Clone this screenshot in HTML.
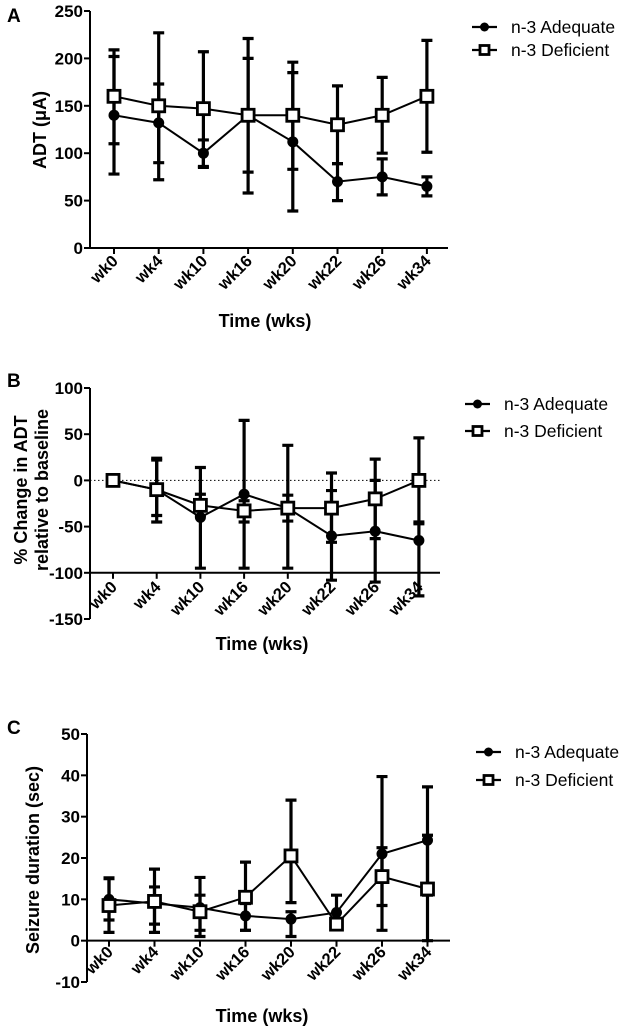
<!DOCTYPE html>
<html><head><meta charset="utf-8"><style>
html,body{margin:0;padding:0;background:#fff;}
svg{display:block;font-family:"Liberation Sans",Arial,sans-serif;}
</style></head><body>
<svg id="fig" width="638" height="1031" viewBox="0 0 638 1031" xmlns="http://www.w3.org/2000/svg"></svg>
<script>
const categories = ["wk0","wk4","wk10","wk16","wk20","wk22","wk26","wk34"];
// Panel A
const aAdeqMean = [140,132,100,140,112,70,75,65];
const aAdeqLow  = [78,72,85,58,39,50,56,55];
const aAdeqHigh = [202,173,114,221,185,89,94,75];
const aDefMean  = [160,150,147,140,140,130,140,160];
const aDefLow   = [110,90,86,80,83,89,100,101];
const aDefHigh  = [209,227,207,200,196,171,180,219];
const aTicks = [0,50,100,150,200,250];
// Panel B
const bAdeqMean = [0,-10,-40,-15,-30,-60,-55,-65];
const bAdeqLow  = [0,-45,-95,-95,-95,-108,-110,-125];
const bAdeqHigh = [0,22,14,65,38,8,23,-47];
const bDefMean  = [0,-10,-27,-33,-30,-30,-20,0];
const bDefLow   = [0,-38,-38,-45,-44,-67,-63,-45];
const bDefHigh  = [0,24,-15,-22,-16,-11,0,46];
const bTicks = [-150,-100,-50,0,50,100];
// Panel C
const cAdeqMean = [10,9,8,6,5.2,6.8,21,24.3];
const cAdeqLow  = [5,4,1,2.5,1,3,2.5,11];
const cAdeqHigh = [15,13,11,9,7,11,39.7,37.2];
const cDefMean  = [8.5,9.5,7,10.5,20.5,4,15.5,12.5];
const cDefLow   = [2,2,2.5,2.5,9.2,3,8.5,0];
const cDefHigh  = [15.2,17.3,15.3,19,34,5,22.5,25.5];
const cTicks = [-10,0,10,20,30,40,50];

const NS="http://www.w3.org/2000/svg";
const svg=document.getElementById('fig');
function el(tag,attrs,parent,text){const e=document.createElementNS(NS,tag);for(const k in attrs)e.setAttribute(k,attrs[k]);if(text!==undefined)e.textContent=text;(parent||svg).appendChild(e);return e;}

function panel(cfg){
  const g=el('g',{});
  
  
  const yScale=v=>cfg.yTop+(cfg.yMax-v)/(cfg.yMax-cfg.yMin)*(cfg.yBot-cfg.yTop);
  const xScale=i=>cfg.x0+i*cfg.step;
  const t=el('text',{x:cfg.letterX,y:cfg.letterY,'font-size':19,'font-weight':'bold'},g,cfg.id.toUpperCase());
  
  
  const ya=el('line',{x1:cfg.axX,x2:cfg.axX,y1:yScale(cfg.yMax),y2:yScale(cfg.yMin),stroke:'#000','stroke-width':2},g);
  
  
  cfg.ticks.forEach(v=>{
    el('line',{x1:cfg.axX-6,x2:cfg.axX,y1:yScale(v),y2:yScale(v),stroke:'#000','stroke-width':2},g);
    const tl=el('text',{x:cfg.axX-7,y:yScale(v)+6,'font-size':17,'font-weight':'bold','text-anchor':'end'},g,String(v));
    
    
  });
  const xy=yScale(cfg.xAxisAt);
  const xa=el('line',{x1:cfg.axX,x2:cfg.axEnd,y1:xy,y2:xy,stroke:'#000','stroke-width':2},g);
  
  
  if(cfg.zeroLine){
    const zl=el('line',{x1:cfg.axX,x2:cfg.axEnd+2,y1:yScale(0),y2:yScale(0),stroke:'#000','stroke-width':1,'stroke-dasharray':'1.5,2.5'},g);
    
    
  }
  categories.forEach((c,i)=>{
    const x=xScale(i);
    el('line',{x1:x,x2:x,y1:xy,y2:xy+6,stroke:'#000','stroke-width':2},g);
    const tl=el('text',{x:x+5,y:cfg.labY,'font-size':16.5,'font-weight':'bold','text-anchor':'end',transform:`rotate(-45 ${x+5} ${cfg.labY})`},g,c);
    
    
  });
  const xt=el('text',{x:cfg.xTitleX,y:cfg.xTitleY,'font-size':18,'font-weight':'bold','text-anchor':'middle'},g,'Time (wks)');
  
  
  const yt=el('text',{x:0,y:0,'font-size':18,'font-weight':'bold','text-anchor':'middle',transform:`translate(${cfg.yTitleX} ${cfg.yTitleY}) rotate(-90)`},g);
  
  
  cfg.yTitle.forEach((ln,k)=>{el('tspan',{x:0,dy:k===0?0:21},yt,ln);});
  const series=[
    {name:'adequate',mean:cfg.aM,lo:cfg.aL,hi:cfg.aH,sq:false},
    {name:'deficient',mean:cfg.dM,lo:cfg.dL,hi:cfg.dH,sq:true}];
  series.forEach(s=>{
    const sg=el('g',{},g);
    
    
    s.mean.forEach((m,i)=>{
      const x=xScale(i);
      const eb=el('path',{d:`M${x},${yScale(s.lo[i])}V${yScale(s.hi[i])}M${x-5.5},${yScale(s.lo[i])}H${x+5.5}M${x-5.5},${yScale(s.hi[i])}H${x+5.5}`,stroke:'#000','stroke-width':3.2,fill:'none'},sg);
      
      
    });
    const pts=s.mean.map((m,i)=>xScale(i)+','+yScale(m)).join(' ');
    const pl=el('polyline',{points:pts,stroke:'#000','stroke-width':2,fill:'none'},sg);
    
    
    s.mean.forEach((m,i)=>{
      const x=xScale(i),y=yScale(m);
      let mk;
      if(s.sq) mk=el('rect',{x:x-6,y:y-6,width:12,height:12,fill:'#fff',stroke:'#000','stroke-width':2.8},sg);
      else mk=el('circle',{cx:x,cy:y,r:5.5,fill:'#000'},sg);
      
      
    });
  });
  const lg=el('g',{},g);
  
  
  [['n-3 Adequate',false],['n-3 Deficient',true]].forEach((e,k)=>{
    const y=cfg.legY+k*cfg.legGap;
    const eg=el('g',{},lg);
    
    
    el('line',{x1:cfg.legX,x2:cfg.legX+25,y1:y,y2:y,stroke:'#000','stroke-width':2.2},eg);
    if(e[1]) el('rect',{x:cfg.legX+8,y:y-4.5,width:9,height:9,fill:'#fff',stroke:'#000','stroke-width':2.8},eg);
    else el('circle',{cx:cfg.legX+12.5,cy:y,r:4.5,fill:'#000'},eg);
    el('text',{x:cfg.legX+39,y:y+6,'font-size':17.5},eg,e[0]);
  });
}

panel({id:'a',letterX:7,letterY:22,axX:90,axEnd:448,x0:114,step:44.7,yTop:11,yBot:248,yMin:0,yMax:250,ticks:aTicks,xAxisAt:0,
  labY:262,xTitleX:265,xTitleY:327,yTitleX:46,yTitleY:130,yTitle:['ADT (\u03bcA)'],
  aM:aAdeqMean,aL:aAdeqLow,aH:aAdeqHigh,dM:aDefMean,dL:aDefLow,dH:aDefHigh,legX:472,legY:27,legGap:23});
panel({id:'b',letterX:7,letterY:387,axX:90,axEnd:440,x0:113,step:43.7,yTop:388,yBot:619,yMin:-150,yMax:100,ticks:bTicks,xAxisAt:-100,zeroLine:true,
  labY:588,xTitleX:262,xTitleY:650,yTitleX:27,yTitleY:490,yTitle:['% Change in ADT','relative to baseline'],
  aM:bAdeqMean,aL:bAdeqLow,aH:bAdeqHigh,dM:bDefMean,dL:bDefLow,dH:bDefHigh,legX:465,legY:404,legGap:27});
panel({id:'c',letterX:7,letterY:734,axX:87,axEnd:450,x0:109,step:45.5,yTop:734,yBot:982,yMin:-10,yMax:50,ticks:cTicks,xAxisAt:0,
  labY:953,xTitleX:262,xTitleY:1022,yTitleX:39,yTitleY:860,yTitle:['Seizure duration (sec)'],
  aM:cAdeqMean,aL:cAdeqLow,aH:cAdeqHigh,dM:cDefMean,dL:cDefLow,dH:cDefHigh,legX:476,legY:752,legGap:28});
</script>
</body></html>
